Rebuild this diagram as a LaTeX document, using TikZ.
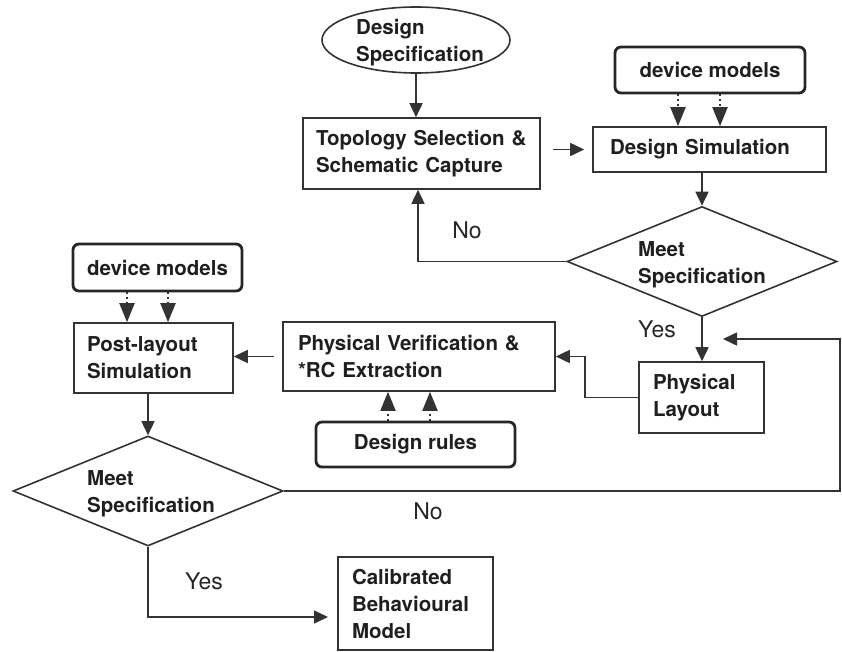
\documentclass[tikz,border=0pt]{standalone}
\usepackage{fontspec}
\setmainfont{TeX Gyre Heros}
\usetikzlibrary{shapes.geometric, arrows.meta, calc}
\begin{document}
\begin{tikzpicture}[x=1pt,y=-1pt,
  line/.style={draw=black!80, line width=1.6pt},
  arr/.style={line, -{Triangle[length=14pt,width=13pt]}},
  darr/.style={draw=black!80, line width=2pt, dash pattern=on 2pt off 3pt, -{Triangle[length=19pt,width=15pt]}},
  lbl/.style={font=\fontsize{20.5}{27}\selectfont\bfseries, text=black!88},
  yn/.style={font=\fontsize{23}{27}\selectfont, text=black!85},
  procbox/.style={draw=black!80, line width=1.6pt, lbl, align=left, inner ysep=0pt},
  srcbox/.style={draw=black!85, line width=2.8pt, rounded corners=6pt, lbl, align=center, inner sep=0pt},
  decision/.style={diamond, draw=black!80, line width=1.6pt, inner sep=0pt, minimum width=270pt, minimum height=110pt, aspect=2.45},
]
\useasboundingbox (0,0) rectangle (842,652);

% nodes
\node[ellipse, draw=black!80, line width=1.6pt, minimum width=188pt, minimum height=66pt, inner sep=0pt,
  label={[lbl, align=left, xshift=4pt, yshift=-3pt]center:Design\\Specification}] (spec) at (416,40) {};
\node[procbox, text width=211pt, inner xsep=13pt, minimum height=71pt] (topo) at (421.5,153.5) {Topology Selection \&\\Schematic Capture};
\node[procbox, text width=199pt, inner xsep=17pt, minimum height=45pt] (ds) at (709.5,149.5) {Design Simulation};
\node[srcbox, minimum width=190pt, minimum height=46pt] (dm1) at (710,70) {device models};
\node[decision, label={[lbl, align=left, yshift=-3pt]center:Meet\\Specification}] (d1) at (702,261.5) {};
\node[procbox, text width=97pt, inner xsep=14pt, minimum height=71pt] (pl) at (701.5,397.5) {Physical\\Layout};
\node[procbox, text width=242pt, inner xsep=15pt, minimum height=69pt] (pv) at (419,356.5) {Physical Verification \&\\{*}RC Extraction};
\node[srcbox, minimum width=199pt, minimum height=45pt] (dr) at (415.5,444.5) {Design rules};
\node[procbox, text width=133pt, inner xsep=13pt, minimum height=70pt] (post) at (153.5,358) {Post-layout\\Simulation};
\node[srcbox, minimum width=169pt, minimum height=47pt] (dm2) at (157.5,267.5) {device models};
\node[decision, label={[lbl, align=left, xshift=3pt, yshift=-3pt]center:Meet\\Specification}] (d2) at (148,491) {};
\node[procbox, text width=127pt, inner xsep=14pt, minimum height=93pt] (cal) at (415.5,603.5) {Calibrated\\Behavioural\\Model};

\node[yn] (no1) at (467,230) {No};
\node[yn] (yes1) at (657,329) {Yes};
\node[yn] (no2) at (428,511) {No};
\node[yn] (yes2) at (204,581) {Yes};

% helper coordinates
\coordinate (fbx) at (418,0);
\coordinate (a1) at (678,0);
\coordinate (a2) at (720,0);
\coordinate (b1) at (388,0);
\coordinate (b2) at (430,0);
\coordinate (c1) at (127,0);
\coordinate (c2) at (168,0);
\coordinate (rx) at (840,0);
\coordinate (rt) at (840,339);
\coordinate (rtip) at (723,339);
\coordinate (yesend) at (328,617);

% connectors
\draw[arr] (spec.south) -- (spec.south |- topo.north);
\draw[arr, shorten <=12pt, shorten >=8pt] (ds.west -| topo.east) -- (ds.west);
\draw[darr] (a1 |- dm1.south) -- (a1 |- ds.north);
\draw[darr] (a2 |- dm1.south) -- (a2 |- ds.north);
\draw[arr] (d1.north |- ds.south) -- (d1.north);
\draw[arr] (d1.west) -| (fbx |- topo.south);
\draw[arr] (d1.south) -- (d1.south |- pl.north);
\draw[arr] (pl.west) -- ++(-53,0) |- (pv.east);
\draw[arr, shorten <=8pt] (pv.west) -- (pv.west -| post.east);
\draw[darr] (b1 |- dr.north) -- (b1 |- pv.south);
\draw[darr] (b2 |- dr.north) -- (b2 |- pv.south);
\draw[darr] (c1 |- dm2.south) -- (c1 |- post.north);
\draw[darr] (c2 |- dm2.south) -- (c2 |- post.north);
\draw[arr] (d2.north |- post.south) -- (d2.north);
\draw[arr] (d2.east) -- (d2.east -| rx) -- (rt) -- (rtip);
\draw[arr] (d2.south) |- (yesend);
\end{tikzpicture}
\end{document}
